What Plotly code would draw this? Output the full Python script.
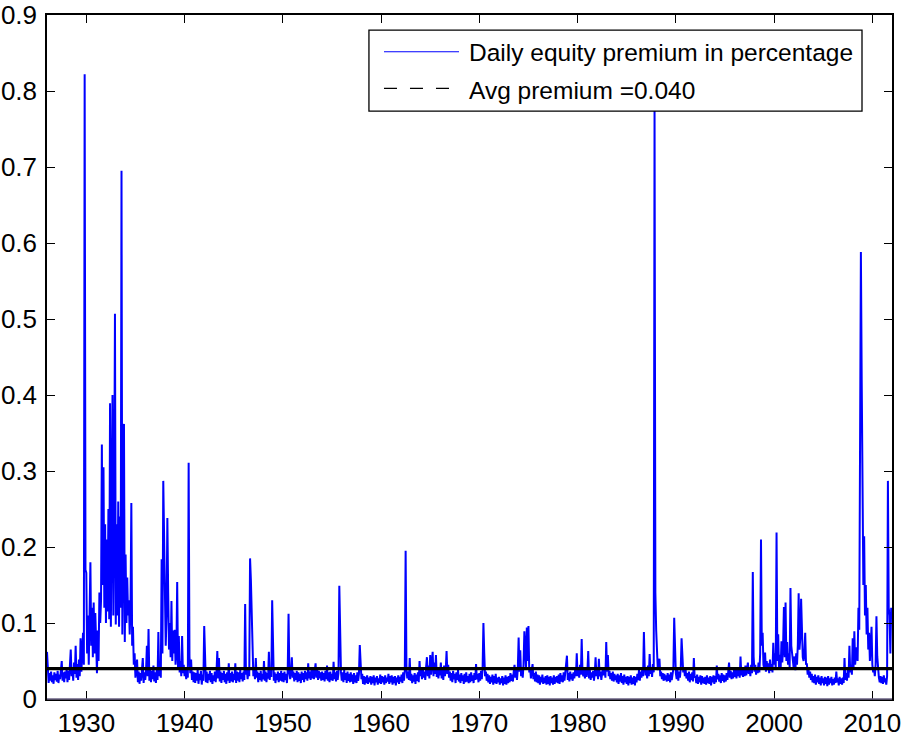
import plotly.graph_objects as go

# ---- data: monthly samples (12 per year), starting Jan 1926 ----
prem_1920s = [
    0.062, 0.030, 0.021, 0.034, 0.024, 0.036, 0.022, 0.031, 0.020, 0.035, 0.025, 0.033,
    0.023, 0.037, 0.021, 0.032, 0.026, 0.038, 0.050, 0.024, 0.035, 0.022, 0.036, 0.027,
    0.040, 0.022, 0.037, 0.025, 0.045, 0.065, 0.030, 0.042, 0.024, 0.048, 0.033, 0.070,
    0.028, 0.046, 0.025, 0.052, 0.030, 0.080, 0.036, 0.058, 0.087, 0.045, 0.822, 0.170,
]
prem_1930s = [
    0.166, 0.060, 0.110, 0.045, 0.095, 0.180, 0.070, 0.120, 0.055, 0.127, 0.060, 0.113,
    0.075, 0.034, 0.090, 0.050, 0.140, 0.100, 0.130, 0.335, 0.150, 0.305, 0.120, 0.230,
    0.100, 0.210, 0.115, 0.250, 0.105, 0.389, 0.095, 0.270, 0.400, 0.110, 0.240, 0.507,
    0.098, 0.230, 0.110, 0.260, 0.095, 0.240, 0.120, 0.695, 0.085, 0.200, 0.362, 0.075,
    0.190, 0.100, 0.160, 0.110, 0.130, 0.085, 0.120, 0.258, 0.070, 0.095, 0.045, 0.060,
    0.028, 0.040, 0.052, 0.022, 0.036, 0.020, 0.034, 0.024, 0.038, 0.054, 0.021, 0.035,
    0.025, 0.038, 0.070, 0.030, 0.092, 0.024, 0.040, 0.022, 0.037, 0.026, 0.044, 0.023,
    0.035, 0.021, 0.038, 0.025, 0.088, 0.030, 0.042, 0.028, 0.184, 0.060, 0.287, 0.204,
    0.130, 0.070, 0.110, 0.238, 0.140, 0.065, 0.100, 0.055, 0.129, 0.050, 0.090, 0.060,
    0.091, 0.045, 0.060, 0.154, 0.040, 0.083, 0.035, 0.050, 0.030, 0.083, 0.034, 0.045,
]
prem_1940s = [
    0.030, 0.040, 0.026, 0.038, 0.028, 0.311, 0.056, 0.034, 0.052, 0.025, 0.036, 0.022,
    0.035, 0.021, 0.034, 0.024, 0.038, 0.020, 0.033, 0.025, 0.037, 0.019, 0.032, 0.024,
    0.096, 0.030, 0.022, 0.036, 0.021, 0.033, 0.025, 0.037, 0.022, 0.034, 0.020, 0.031,
    0.024, 0.036, 0.022, 0.035, 0.063, 0.027, 0.054, 0.023, 0.036, 0.021, 0.034, 0.025,
    0.037, 0.022, 0.033, 0.020, 0.035, 0.024, 0.047, 0.021, 0.034, 0.023, 0.036, 0.022,
    0.033, 0.025, 0.047, 0.021, 0.036, 0.024, 0.035, 0.022, 0.038, 0.026, 0.034, 0.023,
    0.036, 0.025, 0.125, 0.032, 0.040, 0.026, 0.038, 0.030, 0.185, 0.157, 0.110, 0.045,
    0.030, 0.040, 0.026, 0.054, 0.028, 0.036, 0.022, 0.034, 0.025, 0.037, 0.023, 0.033,
    0.026, 0.050, 0.024, 0.036, 0.022, 0.034, 0.027, 0.062, 0.025, 0.038, 0.029, 0.130,
    0.040, 0.024, 0.035, 0.021, 0.033, 0.025, 0.036, 0.022, 0.034, 0.024, 0.037, 0.023,
]
prem_1950s = [
    0.034, 0.022, 0.036, 0.025, 0.033, 0.021, 0.038, 0.112, 0.035, 0.026, 0.037, 0.055,
    0.028, 0.036, 0.023, 0.034, 0.025, 0.037, 0.022, 0.035, 0.024, 0.033, 0.021, 0.036,
    0.025, 0.034, 0.022, 0.037, 0.026, 0.035, 0.024, 0.047, 0.027, 0.036, 0.025, 0.038,
    0.027, 0.039, 0.026, 0.036, 0.047, 0.028, 0.040, 0.025, 0.037, 0.027, 0.035, 0.024,
    0.036, 0.025, 0.034, 0.023, 0.037, 0.026, 0.044, 0.024, 0.035, 0.022, 0.036, 0.025,
    0.033, 0.024, 0.049, 0.026, 0.035, 0.023, 0.037, 0.025, 0.034, 0.149, 0.077, 0.036,
    0.024, 0.035, 0.022, 0.038, 0.025, 0.034, 0.021, 0.036, 0.024, 0.033, 0.022, 0.035,
    0.023, 0.032, 0.020, 0.034, 0.022, 0.031, 0.021, 0.035, 0.024, 0.033, 0.071, 0.054,
    0.026, 0.033, 0.020, 0.030, 0.019, 0.029, 0.021, 0.031, 0.020, 0.028, 0.022, 0.030,
    0.019, 0.029, 0.021, 0.031, 0.018, 0.028, 0.022, 0.030, 0.019, 0.027, 0.021, 0.032,
]
prem_1960s = [
    0.020, 0.030, 0.022, 0.029, 0.019, 0.031, 0.021, 0.028, 0.023, 0.033, 0.020, 0.030,
    0.022, 0.031, 0.019, 0.029, 0.021, 0.030, 0.018, 0.028, 0.022, 0.031, 0.020, 0.029,
    0.023, 0.032, 0.021, 0.035, 0.024, 0.038, 0.195, 0.040, 0.027, 0.036, 0.025, 0.054,
    0.024, 0.033, 0.021, 0.031, 0.023, 0.034, 0.020, 0.032, 0.024, 0.035, 0.022, 0.050,
    0.030, 0.038, 0.026, 0.040, 0.028, 0.036, 0.025, 0.042, 0.055, 0.030, 0.044, 0.027,
    0.058, 0.032, 0.045, 0.062, 0.030, 0.048, 0.033, 0.058, 0.029, 0.041, 0.027, 0.038,
    0.031, 0.048, 0.027, 0.040, 0.025, 0.044, 0.030, 0.038, 0.063, 0.033, 0.045, 0.028,
    0.036, 0.024, 0.034, 0.022, 0.037, 0.026, 0.033, 0.021, 0.035, 0.025, 0.038, 0.023,
    0.032, 0.021, 0.034, 0.024, 0.031, 0.020, 0.033, 0.022, 0.035, 0.023, 0.030, 0.021,
    0.033, 0.022, 0.035, 0.024, 0.031, 0.021, 0.034, 0.025, 0.046, 0.026, 0.033, 0.022,
]
prem_1970s = [
    0.034, 0.024, 0.037, 0.026, 0.040, 0.100, 0.060, 0.030, 0.036, 0.024, 0.033, 0.022,
    0.031, 0.020, 0.029, 0.022, 0.032, 0.019, 0.030, 0.021, 0.033, 0.020, 0.028, 0.022,
    0.029, 0.019, 0.027, 0.021, 0.030, 0.018, 0.028, 0.020, 0.031, 0.019, 0.029, 0.021,
    0.030, 0.022, 0.034, 0.024, 0.032, 0.023, 0.036, 0.045, 0.028, 0.038, 0.025, 0.040,
    0.081, 0.036, 0.064, 0.030, 0.042, 0.028, 0.045, 0.089, 0.068, 0.040, 0.094, 0.050,
    0.096, 0.035, 0.042, 0.027, 0.038, 0.046, 0.026, 0.034, 0.023, 0.036, 0.022, 0.032,
    0.021, 0.031, 0.019, 0.029, 0.022, 0.032, 0.020, 0.028, 0.021, 0.030, 0.019, 0.031,
    0.020, 0.029, 0.018, 0.030, 0.021, 0.028, 0.019, 0.031, 0.020, 0.029, 0.022, 0.030,
    0.021, 0.032, 0.020, 0.034, 0.023, 0.031, 0.022, 0.035, 0.024, 0.033, 0.040, 0.057,
    0.025, 0.034, 0.023, 0.036, 0.026, 0.033, 0.024, 0.035, 0.027, 0.038, 0.030, 0.060,
]
prem_1980s = [
    0.030, 0.040, 0.028, 0.045, 0.032, 0.079, 0.036, 0.030, 0.038, 0.027, 0.041, 0.029,
    0.036, 0.063, 0.027, 0.038, 0.025, 0.035, 0.028, 0.037, 0.024, 0.034, 0.055, 0.030,
    0.038, 0.026, 0.053, 0.030, 0.036, 0.025, 0.034, 0.042, 0.031, 0.040, 0.028, 0.075,
    0.036, 0.058, 0.030, 0.037, 0.026, 0.034, 0.024, 0.036, 0.023, 0.033, 0.025, 0.031,
    0.022, 0.033, 0.020, 0.031, 0.023, 0.034, 0.021, 0.030, 0.019, 0.032, 0.022, 0.029,
    0.020, 0.030, 0.018, 0.029, 0.021, 0.031, 0.019, 0.028, 0.020, 0.030, 0.018, 0.029,
    0.022, 0.033, 0.025, 0.038, 0.024, 0.036, 0.028, 0.040, 0.030, 0.088, 0.042, 0.031,
    0.038, 0.027, 0.044, 0.030, 0.059, 0.033, 0.040, 0.029, 0.046, 0.035, 0.775, 0.140,
    0.090, 0.045, 0.038, 0.050, 0.053, 0.030, 0.036, 0.026, 0.034, 0.024, 0.033, 0.025,
    0.031, 0.023, 0.034, 0.024, 0.032, 0.022, 0.035, 0.025, 0.033, 0.040, 0.107, 0.057,
]
prem_1990s = [
    0.034, 0.026, 0.038, 0.024, 0.036, 0.028, 0.040, 0.080, 0.058, 0.035, 0.042, 0.030,
    0.038, 0.027, 0.034, 0.024, 0.036, 0.022, 0.033, 0.025, 0.035, 0.023, 0.054, 0.028,
    0.030, 0.021, 0.032, 0.020, 0.029, 0.022, 0.031, 0.019, 0.030, 0.021, 0.028, 0.020,
    0.029, 0.019, 0.031, 0.021, 0.028, 0.020, 0.030, 0.018, 0.029, 0.022, 0.031, 0.020,
    0.030, 0.022, 0.044, 0.026, 0.033, 0.023, 0.031, 0.021, 0.034, 0.024, 0.032, 0.022,
    0.031, 0.023, 0.034, 0.025, 0.036, 0.048, 0.028, 0.037, 0.026, 0.035, 0.027, 0.038,
    0.029, 0.040, 0.027, 0.038, 0.030, 0.042, 0.028, 0.056, 0.031, 0.039, 0.029, 0.041,
    0.030, 0.044, 0.031, 0.040, 0.048, 0.033, 0.042, 0.030, 0.045, 0.034, 0.167, 0.056,
    0.036, 0.045, 0.032, 0.042, 0.034, 0.048, 0.035, 0.060, 0.210, 0.070, 0.087, 0.045,
    0.040, 0.061, 0.036, 0.050, 0.038, 0.047, 0.034, 0.052, 0.037, 0.046, 0.035, 0.074,
]
prem_2000s = [
    0.045, 0.060, 0.040, 0.219, 0.050, 0.085, 0.042, 0.058, 0.039, 0.076, 0.048, 0.070,
    0.121, 0.055, 0.127, 0.050, 0.075, 0.045, 0.060, 0.042, 0.146, 0.070, 0.058, 0.048,
    0.040, 0.056, 0.038, 0.060, 0.045, 0.072, 0.139, 0.065, 0.080, 0.132, 0.070, 0.055,
    0.050, 0.060, 0.087, 0.045, 0.047, 0.032, 0.040, 0.028, 0.036, 0.025, 0.033, 0.022,
    0.030, 0.021, 0.032, 0.019, 0.029, 0.022, 0.031, 0.020, 0.028, 0.018, 0.030, 0.021,
    0.027, 0.018, 0.029, 0.020, 0.028, 0.017, 0.030, 0.019, 0.027, 0.021, 0.029, 0.018,
    0.026, 0.019, 0.028, 0.021, 0.036, 0.022, 0.027, 0.018, 0.029, 0.020, 0.027, 0.019,
    0.028, 0.021, 0.054, 0.025, 0.034, 0.024, 0.040, 0.028, 0.070, 0.035, 0.045, 0.032,
    0.080, 0.040, 0.089, 0.045, 0.060, 0.068, 0.050, 0.120, 0.091, 0.446, 0.588, 0.420,
    0.300, 0.150, 0.214, 0.110, 0.150, 0.085, 0.120, 0.065, 0.087, 0.050, 0.070, 0.095,
]
prem_2010s = [
    0.045, 0.035, 0.040, 0.030, 0.045, 0.109, 0.056, 0.032, 0.028, 0.022, 0.030, 0.021,
    0.029, 0.020, 0.031, 0.022, 0.027, 0.019, 0.030, 0.287, 0.120, 0.110, 0.060, 0.120,
    0.106,
]

start_year = 1926
samples_per_year = 12
avg_premium = 0.040
x_range = [1926, 2012]
x_ticks = [1930, 1940, 1950, 1960, 1970, 1980, 1990, 2000, 2010]
y_ticks = [0, 0.1, 0.2, 0.3, 0.4, 0.5, 0.6, 0.7, 0.8, 0.9]
y_ticktext = ["0", "0.1", "0.2", "0.3", "0.4", "0.5", "0.6", "0.7", "0.8", "0.9"]
series_name = "Daily equity premium in percentage"
avg_name = "Avg premium =%.3f" % avg_premium

premium = (prem_1920s + prem_1930s + prem_1940s + prem_1950s + prem_1960s
           + prem_1970s + prem_1980s + prem_1990s + prem_2000s + prem_2010s)
years = [start_year + i / samples_per_year for i in range(len(premium))]

FONT = "Liberation Sans, Arial, Helvetica, sans-serif"

fig = go.Figure()
fig.add_trace(go.Scatter(x=years, y=premium, mode="lines",
                         line=dict(color="#0000ff", width=2),
                         showlegend=False, hoverinfo="skip"))
fig.add_trace(go.Scatter(x=x_range, y=[avg_premium, avg_premium], mode="lines",
                         line=dict(color="#000000", width=3.2),
                         showlegend=False, hoverinfo="skip"))

axis_common = dict(showgrid=False, zeroline=False, showline=True, automargin=False,
                   linecolor="#000000", linewidth=1.5, mirror="ticks",
                   ticks="inside", ticklen=8, tickwidth=1.3, tickcolor="#000000",
                   ticklabeloverflow="allow",
                   tickfont=dict(family=FONT, size=26, color="#000000"))

fig.update_xaxes(range=x_range, tickvals=x_ticks, ticktext=[str(t) for t in x_ticks],
                 **axis_common)
fig.update_yaxes(range=[0, 0.9], tickvals=y_ticks, ticktext=y_ticktext,
                 ticklabelstandoff=3, **axis_common)

# custom legend box (MATLAB style)
lx0, lx1, ly0, ly1 = 0.381, 0.9645, 0.8596, 0.978
shapes = [
    dict(type="rect", xref="paper", yref="paper", x0=lx0, x1=lx1, y0=ly0, y1=ly1,
         line=dict(color="#000000", width=1.3), fillcolor="#ffffff", layer="above"),
    dict(type="line", xref="paper", yref="paper", x0=0.3988, x1=0.4876, y0=0.9463, y1=0.9463,
         line=dict(color="#0000ff", width=1.2), layer="above"),
    dict(type="line", xref="paper", yref="paper", x0=0.3988, x1=0.4876, y0=0.8928, y1=0.8928,
         line=dict(color="#000000", width=1.2, dash="13px,13px"), layer="above"),
    dict(type="line", xref="paper", yref="paper", x0=0, x1=1, y0=0, y1=0,
         line=dict(color="#6b6385", width=1.5), layer="above"),
]
annotations = [
    dict(xref="paper", yref="paper", x=0.497, y=0.945, xanchor="left", yanchor="middle",
         text=series_name, showarrow=False, font=dict(family=FONT, size=24.5, color="#000000")),
    dict(xref="paper", yref="paper", x=0.497, y=0.889, xanchor="left", yanchor="middle",
         text=avg_name, showarrow=False, font=dict(family=FONT, size=24.5, color="#000000")),
]

fig.update_layout(width=901, height=740, margin=dict(l=47, r=9, t=15, b=41),
                  paper_bgcolor="#ffffff", plot_bgcolor="#ffffff",
                  shapes=shapes, annotations=annotations, showlegend=False)

fig.write_html("out.html")
